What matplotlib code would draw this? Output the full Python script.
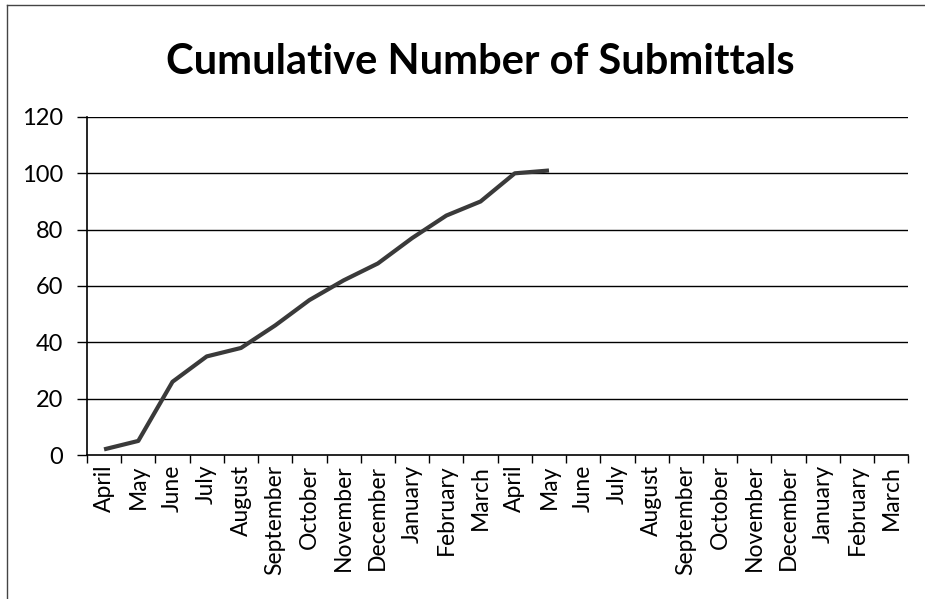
import matplotlib
matplotlib.use("Agg")
import matplotlib.pyplot as plt
import numpy as np

months = ["April", "May", "June", "July", "August", "September", "October",
          "November", "December", "January", "February", "March",
          "April", "May", "June", "July", "August", "September", "October",
          "November", "December", "January", "February", "March"]
submittals = [2, 5, 26, 35, 38, 46, 55, 62, 68, 77, 85, 90, 100, 101]
y_ticks = [0, 20, 40, 60, 80, 100, 120]

plt.rcParams['font.family'] = ['Lato', 'DejaVu Sans']

fig = plt.figure(figsize=(9.25, 5.99), dpi=100)
ax = fig.add_axes([0.094, 0.2404, 0.888, 0.5643])

x = np.arange(len(submittals))
ax.plot(x, submittals, color='#3a3a3a', lw=3.0, solid_capstyle='butt')

ax.set_xlim(-0.5, len(months) - 0.5)
ax.set_ylim(0, 120)
ax.set_yticks(y_ticks)
ax.set_yticklabels([str(v) for v in y_ticks], fontsize=17)
for v in y_ticks[1:]:
    ax.axhline(v, color='black', lw=1.0, zorder=0)

ax.set_xticks(np.arange(len(months)))
ax.set_xticklabels(months, rotation=90, fontsize=16.5)
ax.tick_params(axis='x', which='major', length=0, pad=7)
ax.set_xticks(np.arange(len(months) + 1) - 0.5, minor=True)
ax.tick_params(axis='x', which='minor', length=6, width=1.0, color='black', direction='out')
ax.tick_params(axis='y', length=7, width=1.0, color='black', pad=10)

for side in ['top', 'right']:
    ax.spines[side].set_visible(False)
ax.spines['left'].set_linewidth(1.2)
ax.spines['bottom'].set_linewidth(1.2)

fig.text(0.519, 0.896, "Cumulative Number of Submittals", ha='center', va='center',
         fontsize=30, fontweight='bold')

# thin frame lines along the left and top edges of the chart area
fig.add_artist(plt.Line2D([0.0076, 0.0076], [0.0, 0.992], transform=fig.transFigure,
                          color='#444444', lw=1.0))
fig.add_artist(plt.Line2D([0.0076, 1.0], [0.992, 0.992], transform=fig.transFigure,
                          color='#444444', lw=1.0))

fig.savefig("out.png", dpi=100)
